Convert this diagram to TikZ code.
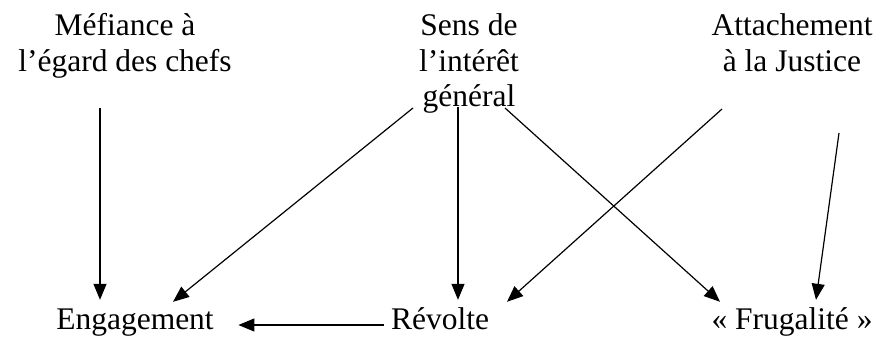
\documentclass[tikz,border=0pt]{standalone}
\usepackage{fontspec}
\setmainfont{Liberation Serif}
\usetikzlibrary{arrows.meta}

\begin{document}
\begin{tikzpicture}[x=1pt, y=-1pt,
    lbl/.style={inner sep=0pt, align=center, font=\fontsize{31.5}{35.5}\selectfont},
    box/.style={lbl, text height=22pt, text depth=7pt, anchor=base},
    arr/.style={line width=1.2pt, -{Triangle[length=16pt, width=13pt]}}]
    \useasboundingbox (0,0) rectangle (888,345);
    \node[lbl, anchor=north] (mef) at (125,13.5) {Méfiance à\\l’égard des chefs};
    \node[lbl, anchor=north] (sens) at (469,13.5) {Sens de\\l’intérêt\\général};
    \node[lbl, anchor=north] (att) at (792,13.5) {Attachement\\à la Justice};
    \node[box] (eng) at (135,329) {Engagement};
    \node[box] (rev) at (440,329) {Révolte};
    \node[box] (frug) at (792,329) {« Frugalité »};
    \draw[arr] ([xshift=-25pt, yshift=-94.5pt]mef.north) -- ([xshift=-35pt, yshift=7pt]eng.north);
    \draw[arr] ([xshift=-56pt, yshift=-94.5pt]sens.north) -- ([xshift=38pt, yshift=5pt]eng.north);
    \draw[arr] ([xshift=-11pt, yshift=-93.5pt]sens.north) -- ([xshift=18pt, yshift=7pt]rev.north);
    \draw[arr] ([xshift=36pt, yshift=-94.5pt]sens.north) -- ([xshift=-72pt, yshift=5pt]frug.north);
    \draw[arr] ([xshift=-70pt, yshift=-95.5pt]att.north) -- ([xshift=67pt, yshift=5pt]rev.north);
    \draw[arr] ([xshift=47pt, yshift=-119.5pt]att.north) -- ([xshift=24pt, yshift=7pt]frug.north);
    \draw[arr] ([xshift=-7pt, yshift=-3.5pt]rev.west) -- ([xshift=24.5pt, yshift=-3.5pt]eng.east);
\end{tikzpicture}
\end{document}
